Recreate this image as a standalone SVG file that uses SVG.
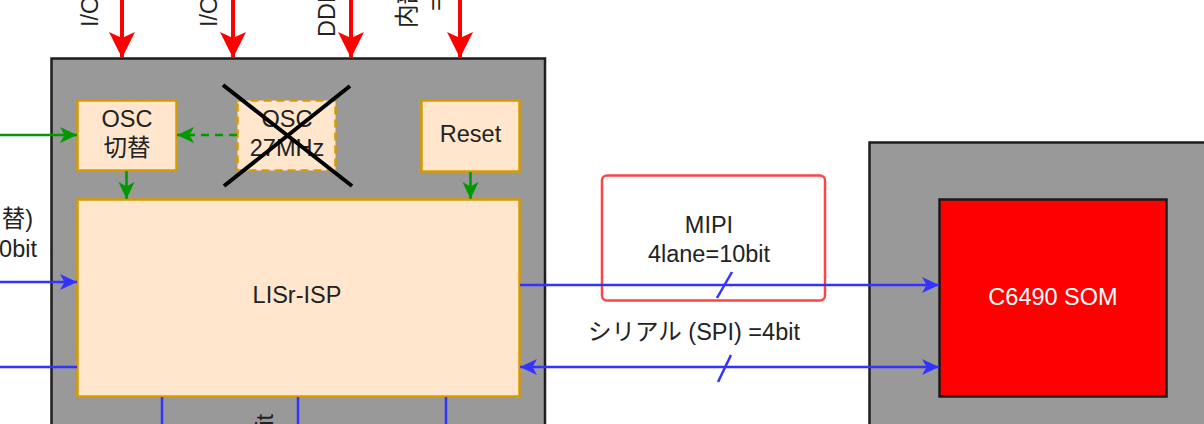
<svg xmlns="http://www.w3.org/2000/svg" width="1204" height="424" viewBox="0 0 1204 424">
<style>
  text { font-family: "Liberation Sans", Arial, "Noto Sans CJK JP", sans-serif; font-size: 23.5px; fill: #222; }
  .c { text-anchor: middle; }
  .e { text-anchor: end; }
  .gray { fill: #999999; stroke: #1e1e1e; stroke-width: 2.5; }
  .orange { fill: #FFE6CC; stroke: #D79B00; stroke-width: 2.5; }
  .blue { stroke: #3333FF; stroke-width: 2.5; fill: none; }
  .green { stroke: #009900; stroke-width: 2.5; fill: none; }
  .red { stroke: #FF0000; stroke-width: 4; fill: none; }
</style>
<defs>
  <marker id="ab" markerUnits="userSpaceOnUse" markerWidth="18" markerHeight="17" viewBox="0 0 18 17" refX="17" refY="8.5" orient="auto-start-reverse">
    <path d="M0,0.5 L17,8.5 L0,16.5 L4.5,8.5 z" fill="#3333FF"/>
  </marker>
  <marker id="ag" markerUnits="userSpaceOnUse" markerWidth="18" markerHeight="17" viewBox="0 0 18 17" refX="17" refY="8.5" orient="auto">
    <path d="M0,0.5 L17,8.5 L0,16.5 L4.5,8.5 z" fill="#009900"/>
  </marker>
  <marker id="ar" markerUnits="userSpaceOnUse" markerWidth="27" markerHeight="27" viewBox="0 0 27 27" refX="26" refY="13.5" orient="auto">
    <path d="M0,0.5 L26,13.5 L0,26.5 L6,13.5 z" fill="#FF0000"/>
  </marker>
</defs>

<g id="isp-board">
  <rect class="gray" x="51.5" y="58.5" width="493.5" height="380"/>
</g>
<g id="som-board">
  <rect class="gray" x="869.5" y="142.5" width="350" height="300"/>
</g>

<g id="osc-switch">
  <rect class="orange" x="77.5" y="100.5" width="99" height="70"/>
  <text class="c" x="127" y="127">OSC</text>
  <text class="c" x="127" y="156">切替</text>
</g>
<g id="osc-27mhz">
  <rect class="orange" x="237.5" y="100.5" width="98" height="70" stroke-dasharray="8 5"/>
  <text class="c" x="287" y="127">OSC</text>
  <text class="c" x="287" y="156">27MHz</text>
  <path d="M223,85 L352,186 M350,86 L224,186" stroke="#000" stroke-width="4" fill="none"/>
</g>
<g id="reset">
  <rect class="orange" x="421.5" y="100.5" width="98" height="71"/>
  <text class="c" x="470.5" y="142">Reset</text>
</g>
<g id="lisr-isp">
  <rect class="orange" x="77.5" y="199.5" width="442" height="197"/>
  <text class="c" x="297" y="303">LISr-ISP</text>
</g>
<g id="mipi-label">
  <rect x="602" y="175.5" width="223" height="125" rx="5" fill="none" stroke="#FF4444" stroke-width="2.5"/>
  <text class="c" x="709" y="233">MIPI</text>
  <text class="c" x="709" y="262">4lane=10bit</text>
</g>
<g id="c6490-som">
  <rect x="939.5" y="199.5" width="227" height="197" fill="#FF0000" stroke="#1a1a1a" stroke-width="2.5"/>
  <text class="c" x="1053" y="305" style="fill:#fff">C6490 SOM</text>
</g>

<g id="connectors">
  <line class="red" x1="122" y1="0" x2="122" y2="58" marker-end="url(#ar)"/>
  <line class="red" x1="233" y1="0" x2="233" y2="58" marker-end="url(#ar)"/>
  <line class="red" x1="351" y1="0" x2="351" y2="58" marker-end="url(#ar)"/>
  <line class="red" x1="460" y1="0" x2="460" y2="58" marker-end="url(#ar)"/>

  <line class="green" x1="0" y1="135" x2="77" y2="135" marker-end="url(#ag)"/>
  <line class="green" x1="237" y1="135" x2="177" y2="135" stroke-dasharray="8 6" marker-end="url(#ag)"/>
  <line class="green" x1="126.5" y1="171" x2="126.5" y2="199" marker-end="url(#ag)"/>
  <line class="green" x1="470.5" y1="172" x2="470.5" y2="199" marker-end="url(#ag)"/>

  <line class="blue" x1="0" y1="282" x2="77" y2="282" marker-end="url(#ab)"/>
  <line class="blue" x1="0" y1="367" x2="77" y2="367"/>
  <line class="blue" x1="520" y1="285" x2="939" y2="285" marker-end="url(#ab)"/>
  <line class="blue" x1="520" y1="367" x2="939" y2="367" marker-start="url(#ab)" marker-end="url(#ab)"/>
  <line class="blue" x1="717" y1="298" x2="732" y2="272"/>
  <line class="blue" x1="718" y1="382" x2="731" y2="355"/>
  <line class="blue" x1="162" y1="397" x2="162" y2="424"/>
  <line class="blue" x1="298" y1="397" x2="298" y2="424"/>
  <line class="blue" x1="446" y1="397" x2="446" y2="424"/>

  <text class="c" x="694" y="340">シリアル (SPI) =4bit</text>
  <text class="e" x="33" y="227">替)</text>
  <text class="e" x="37" y="257">0bit</text>
  <text transform="translate(98,27) rotate(-90)">I/O</text>
  <text transform="translate(217,27) rotate(-90)">I/O</text>
  <text transform="translate(335,37) rotate(-90)">DDR</text>
  <text transform="translate(415,28) rotate(-90)">内部</text>
  <text transform="translate(444,11) rotate(-90)">=</text>
  <text class="e" transform="translate(273,414) rotate(-90)">bit</text>
</g>
</svg>
